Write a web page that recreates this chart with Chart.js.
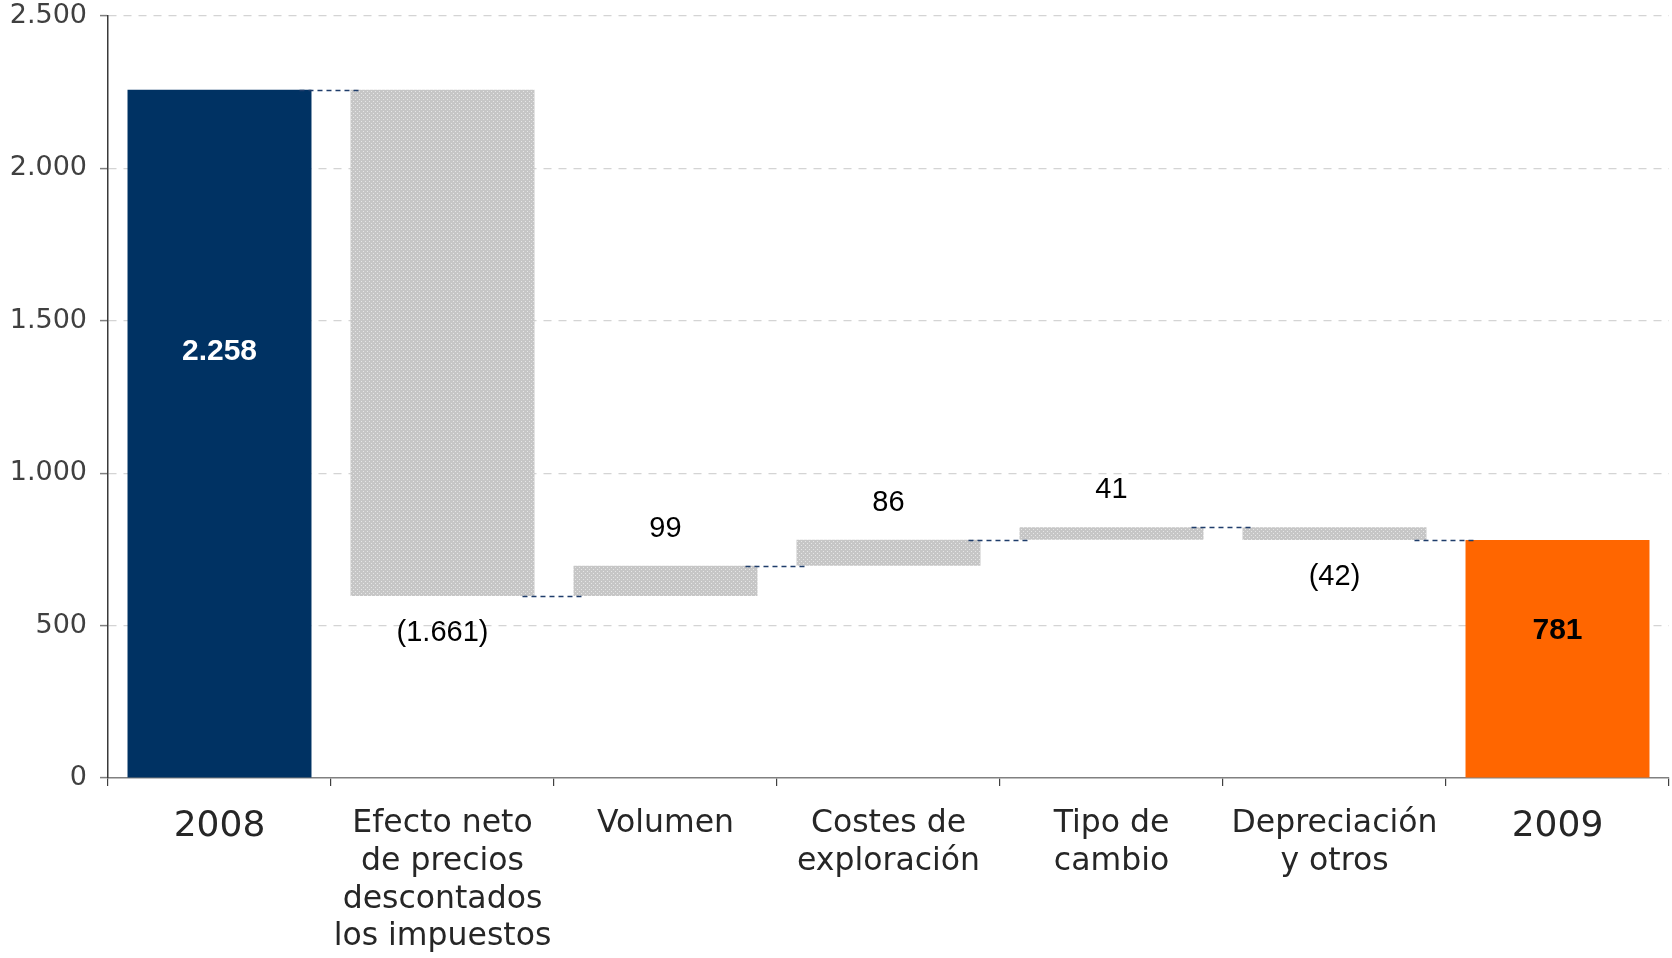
<!DOCTYPE html>
<html><head><meta charset="utf-8">
<script src="https://cdn.jsdelivr.net/npm/chart.js@4.4.0/dist/chart.umd.min.js"></script>
<style>html,body{margin:0;padding:0;background:#fff}#wrap{width:1672px;height:958px;position:relative}</style>
</head><body><div id="wrap"><canvas id="c"></canvas></div>
<script>
// ---- data ----
const categories = [
  ["2008"],
  ["Efecto neto", "de precios", "descontados", "los impuestos"],
  ["Volumen"],
  ["Costes de", "exploración"],
  ["Tipo de", "cambio"],
  ["Depreciación", "y otros"],
  ["2009"]
];
const startValue = 2258;
const changes = [-1661, 99, 86, 41, -42];
const endValue = 781;
const yTickValues = [0, 500, 1000, 1500, 2000, 2500];

// ---- helpers ----
function fmt(v) {
  const s = String(Math.abs(v)).replace(/\B(?=(\d{3})+(?!\d))/g, ".");
  return v < 0 ? "(" + s + ")" : s;
}
const floats = [];
floats.push([0, startValue]);
let run = startValue;
changes.forEach(c => { floats.push([run, run + c]); run += c; });
floats.push([0, endValue]);

const canvas = document.getElementById('c');
const mainCtx = canvas.getContext('2d');
function makePattern() {
  const p = document.createElement('canvas');
  p.width = 4; p.height = 4;
  const g = p.getContext('2d');
  g.fillStyle = '#c6c6c6'; g.fillRect(0, 0, 4, 4);
  g.fillStyle = '#e6e6e6';
  g.fillRect(1, 1, 1, 1); g.fillRect(3, 3, 1, 1);
  return mainCtx.createPattern(p, 'repeat');
}
const pat = makePattern();
const NAVY = '#003263', ORANGE = '#ff6600';
const colors = floats.map((f, i) => i === 0 ? NAVY : (i === floats.length - 1 ? ORANGE : pat));

const overlay = {
  id: 'overlay',
  afterDatasetsDraw(chart) {
    const ctx = chart.ctx, ys = chart.scales.y;
    const meta = chart.getDatasetMeta(0);
    ctx.save();
    // connectors
    ctx.strokeStyle = '#1f3d6b';
    ctx.lineWidth = 1.5;
    ctx.setLineDash([5, 4]);
    for (let i = 0; i < floats.length - 1; i++) {
      const b0 = meta.data[i], b1 = meta.data[i + 1];
      const x0 = b0.x + b0.width / 2 - 12;
      const x1 = b1.x - b1.width / 2 + 10;
      const yy = Math.round(ys.getPixelForValue(floats[i][1])) + 0.5;
      ctx.beginPath(); ctx.moveTo(x0, yy); ctx.lineTo(x1, yy); ctx.stroke();
    }
    ctx.setLineDash([]);
    // labels
    ctx.textAlign = 'center';
    ctx.textBaseline = 'middle';
    const last = floats.length - 1;
    ctx.font = 'bold 30px "Liberation Sans", Arial, sans-serif';
    ctx.fillStyle = '#ffffff';
    ctx.fillText(fmt(startValue), meta.data[0].x, ys.getPixelForValue(startValue * 0.62));
    ctx.fillStyle = '#000000';
    ctx.fillText(fmt(endValue), meta.data[last].x, ys.getPixelForValue(endValue * 0.62));
    ctx.font = '29px "Liberation Sans", Arial, sans-serif';
    changes.forEach((c, k) => {
      const i = k + 1;
      const f = floats[i];
      const top = Math.max(f[0], f[1]), bot = Math.min(f[0], f[1]);
      const y = c >= 0 ? ys.getPixelForValue(top) - 37 : ys.getPixelForValue(bot) + 37;
      ctx.fillText(fmt(c), meta.data[i].x, y);
    });
    ctx.restore();
  }
};

new Chart(canvas, {
  type: 'bar',
  data: {
    labels: categories,
    datasets: [{
      data: floats,
      backgroundColor: colors,
      borderWidth: 0,
      barPercentage: 0.825,
      categoryPercentage: 1.0
    }]
  },
  options: {
    responsive: true,
    maintainAspectRatio: false,
    animation: false,
    layout: { padding: { top: 16, right: 3, bottom: 0, left: 0 } },
    plugins: { legend: { display: false }, tooltip: { enabled: false } },
    scales: {
      x: {
        afterFit: s => { s.height = 180; s.paddingLeft = 0; s.paddingRight = 0; },
        grid: {
          display: true, drawOnChartArea: false, drawTicks: true, tickLength: 8,
          color: '#404040', offset: true, lineWidth: 1.2
        },
        border: { display: true, color: '#808080', width: 1.5 },
        ticks: {
          padding: 19,
          color: '#262626',
          maxRotation: 0, autoSkip: false,
          font: c => {
            const yr = c.index === 0 || c.index === categories.length - 1;
            return { family: '"DejaVu Sans", Verdana, sans-serif', size: yr ? 36 : 31.5, lineHeight: yr ? 1.22 : 1.2 };
          }
        }
      },
      y: {
        min: 0, max: 2500,
        afterFit: s => { s.width = 108; s.paddingTop = 0; s.paddingBottom = 0; },
        afterBuildTicks: s => { s.ticks = yTickValues.map(v => ({ value: v })); },
        grid: {
          color: c => (c.tick && c.tick.value === 0) ? 'rgba(0,0,0,0)' : '#d4d4d4',
          lineWidth: 1.2,
          drawTicks: true, tickLength: 8, tickColor: '#808080', tickWidth: 1.5
        },
        border: { display: true, color: '#3a3a3a', width: 1.5, dash: [8, 7] },
        ticks: {
          padding: 13,
          color: '#404040',
          font: { family: '"DejaVu Sans", Verdana, sans-serif', size: 27 },
          callback: v => fmt(v)
        }
      }
    }
  },
  plugins: [overlay]
});
</script>
</body></html>
